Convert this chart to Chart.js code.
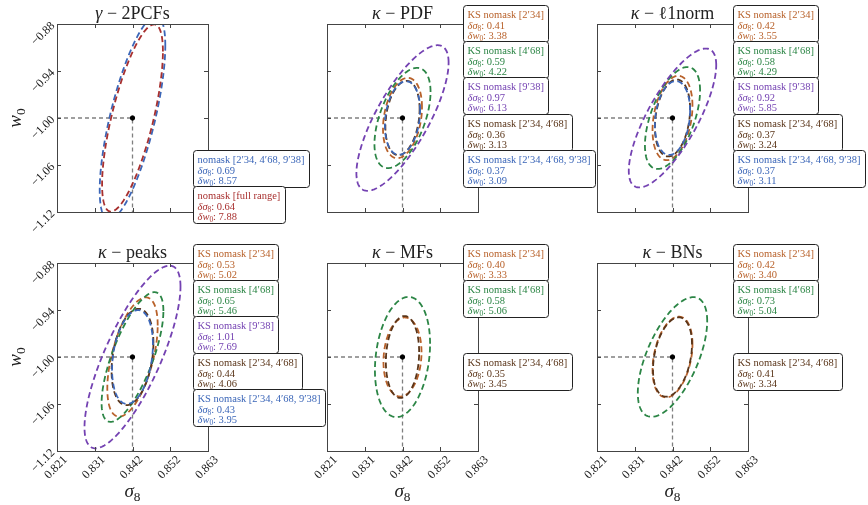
<!DOCTYPE html>
<html lang="en">
<head>
    <meta charset="UTF-8">
    <title>Fisher forecasts sigma8 - w0</title>
    <script src="https://cdn.jsdelivr.net/npm/chart.js"></script>
    <style>
        body { margin: 0; background: #ffffff; }
        #wrap { position: relative; width: 868px; height: 505px; }
        #wrap canvas { position: absolute; left: 0; top: 0; }
    </style>
</head>
<body>
<div id="wrap">
    <canvas id="p0" width="868" height="505"></canvas>
    <canvas id="p1" width="868" height="505"></canvas>
    <canvas id="p2" width="868" height="505"></canvas>
    <canvas id="p3" width="868" height="505"></canvas>
    <canvas id="p4" width="868" height="505"></canvas>
    <canvas id="p5" width="868" height="505"></canvas>
</div>
<script>
    // axes
    const xTickValues = [0.821, 0.8315, 0.842, 0.8525, 0.863];
    const xTickLabels = ['0.821', '0.831', '0.842', '0.852', '0.863'];
    const yTickValues = [-1.12, -1.06, -1.00, -0.94, -0.88];
    const yTickLabels = ['\u22121.12', '\u22121.06', '\u22121.00', '\u22120.94', '\u22120.88'];
    const fiducial = [0.842, -1.00];

    const panelTitles = ['\u03b3 \u2212 2PCFs', '\u03ba \u2212 PDF', '\u03ba \u2212 \u21131norm', '\u03ba \u2212 peaks', '\u03ba \u2212 MFs', '\u03ba \u2212 BNs'];

    // gamma 2PCFs
    const pcfLabels = ['nomask [2\u203234, 4\u203268, 9\u203238]', 'nomask [full range]'];
    const pcfColors = ['#3b66b8', '#a8302f'];
    const pcfSigma8 = [0.69, 0.64];
    const pcfW0 = [8.57, 7.88];
    const pcfRho = [0.71, 0.71];

    // KS mass maps
    const ksLabels = ['KS nomask [2\u203234]', 'KS nomask [4\u203268]', 'KS nomask [9\u203238]',
                      'KS nomask [2\u203234, 4\u203268]', 'KS nomask [2\u203234, 4\u203268, 9\u203238]'];
    const ksColors = ['#b8612a', '#2b8545', '#7442b2', '#5a3519', '#3b66b8'];

    const pdfSigma8 = [0.41, 0.59, 0.97, 0.36, 0.37];
    const pdfW0 = [3.38, 4.22, 6.13, 3.13, 3.09];
    const pdfRho = [0.27, 0.52, 0.76, 0.24, 0.21];

    const l1Sigma8 = [0.42, 0.58, 0.92, 0.37, 0.37];
    const l1W0 = [3.55, 4.29, 5.85, 3.24, 3.11];
    const l1Rho = [0.29, 0.54, 0.76, 0.24, 0.19];

    const peaksSigma8 = [0.53, 0.65, 1.01, 0.44, 0.43];
    const peaksW0 = [5.02, 5.46, 7.69, 4.06, 3.95];
    const peaksRho = [0.53, 0.71, 0.77, 0.29, 0.27];

    const mfsSigma8 = [0.40, 0.58, null, 0.35, null];
    const mfsW0 = [3.33, 5.06, null, 3.45, null];
    const mfsRho = [0.12, 0.22, null, 0.12, null];

    const bnsSigma8 = [0.42, 0.73, null, 0.41, null];
    const bnsW0 = [3.40, 5.04, null, 3.34, null];
    const bnsRho = [0.32, 0.60, null, 0.32, null];

    const FONT = '"Liberation Serif", "Times New Roman", serif';
    const colLeft = [57, 327, 597];
    const rowTop = [24, 263];
    const plotW = 151, plotH = 188;
    const K_X = 1.57, K_Y = 1.516;   // 68% 2D contour scaling

    const panels = [
        { col: 0, row: 0, labels: pcfLabels, colors: pcfColors, s8: pcfSigma8, w0: pcfW0, rho: pcfRho, slot0: 4 },
        { col: 1, row: 0, labels: ksLabels, colors: ksColors, s8: pdfSigma8, w0: pdfW0, rho: pdfRho, slot0: 0 },
        { col: 2, row: 0, labels: ksLabels, colors: ksColors, s8: l1Sigma8, w0: l1W0, rho: l1Rho, slot0: 0 },
        { col: 0, row: 1, labels: ksLabels, colors: ksColors, s8: peaksSigma8, w0: peaksW0, rho: peaksRho, slot0: 0 },
        { col: 1, row: 1, labels: ksLabels, colors: ksColors, s8: mfsSigma8, w0: mfsW0, rho: mfsRho, slot0: 0 },
        { col: 2, row: 1, labels: ksLabels, colors: ksColors, s8: bnsSigma8, w0: bnsW0, rho: bnsRho, slot0: 0 }
    ];

    function ellipse(ds8, dw0, rho) {
        const sx = ds8 / 100 * fiducial[0] * K_X;
        const sy = dw0 / 100 * Math.abs(fiducial[1]) * K_Y;
        const c = Math.sqrt(1 - rho * rho);
        const pts = [];
        for (let i = 0; i <= 200; i++) {
            const t = 2 * Math.PI * i / 200;
            pts.push({ x: fiducial[0] + sx * Math.cos(t), y: fiducial[1] + sy * (rho * Math.cos(t) + c * Math.sin(t)) });
        }
        return pts;
    }

    function fontFor(style, size) {
        if (style === 'i') return 'italic ' + size + 'px ' + FONT;
        if (style === 's') return (size * 0.7).toFixed(1) + 'px ' + FONT;
        return size + 'px ' + FONT;
    }
    function runsWidth(ctx, runs, size) {
        let w = 0;
        runs.forEach(r => { ctx.font = fontFor(r[1], size); w += ctx.measureText(r[0]).width; });
        return w;
    }
    function drawRuns(ctx, runs, x, y, size, align) {
        const w = runsWidth(ctx, runs, size);
        let cx = align === 'center' ? x - w / 2 : x;
        ctx.textAlign = 'left';
        ctx.textBaseline = 'alphabetic';
        runs.forEach(r => {
            ctx.font = fontFor(r[1], size);
            ctx.fillText(r[0], cx, r[1] === 's' ? y + size * 0.22 : y);
            cx += ctx.measureText(r[0]).width;
        });
    }

    function decorPlugin(p, title) {
        return {
            id: 'decor',
            afterDraw(chart) {
                const ctx = chart.ctx;
                const a = chart.chartArea;
                const xs = chart.scales.x, ys = chart.scales.y;
                ctx.save();
                // frame + inward ticks
                ctx.strokeStyle = '#444';
                ctx.lineWidth = 1;
                ctx.strokeRect(Math.round(a.left) + 0.5, Math.round(a.top) + 0.5, Math.round(a.right - a.left), Math.round(a.bottom - a.top));
                ctx.beginPath();
                xTickValues.forEach(v => {
                    const px = Math.round(xs.getPixelForValue(v)) + 0.5;
                    ctx.moveTo(px, a.bottom); ctx.lineTo(px, a.bottom - 4);
                    ctx.moveTo(px, a.top); ctx.lineTo(px, a.top + 4);
                });
                yTickValues.forEach(v => {
                    const py = Math.round(ys.getPixelForValue(v)) + 0.5;
                    ctx.moveTo(a.left, py); ctx.lineTo(a.left + 4, py);
                    ctx.moveTo(a.right, py); ctx.lineTo(a.right - 4, py);
                });
                ctx.stroke();

                ctx.fillStyle = '#222';
                // y tick labels (first column only)
                if (p.col === 0) {
                    ctx.font = '12px ' + FONT;
                    yTickValues.forEach((v, i) => {
                        ctx.save();
                        ctx.translate(a.left - 4, ys.getPixelForValue(v));
                        ctx.rotate(-Math.PI / 4);
                        ctx.textAlign = 'right';
                        ctx.textBaseline = 'middle';
                        ctx.fillText(yTickLabels[i], 0, 0);
                        ctx.restore();
                    });
                    drawRotatedLabel(ctx, [['w', 'i'], ['0', 's']], 15, (a.top + a.bottom) / 2);
                }
                // x tick labels (bottom row only)
                if (p.row === 1) {
                    ctx.font = '12px ' + FONT;
                    xTickValues.forEach((v, i) => {
                        const w = ctx.measureText(xTickLabels[i]).width;
                        const half = 0.7071 * (w + 8.5) / 2;
                        ctx.save();
                        ctx.translate(xs.getPixelForValue(v) - 1, a.bottom + 4 + half);
                        ctx.rotate(-Math.PI / 4);
                        ctx.textAlign = 'center';
                        ctx.textBaseline = 'middle';
                        ctx.fillText(xTickLabels[i], 0, 0);
                        ctx.restore();
                    });
                    drawRuns(ctx, [['\u03c3', 'i'], ['8', 's']], (a.left + a.right) / 2, 497, 19, 'center');
                }
                // title
                drawRuns(ctx, [[title[0], 'i'], [title.slice(1), 'r']], (a.left + a.right) / 2, a.top - 5, 18, 'center');

                // legend boxes
                p.labels.forEach((lab, i) => {
                    if (p.s8[i] === null) return;
                    const size = 10.5;
                    const lines = [
                        [[lab, 'r']],
                        [['\u03b4\u03c3', 'i'], ['8', 's'], [': ' + p.s8[i].toFixed(2), 'r']],
                        [['\u03b4w', 'i'], ['0', 's'], [': ' + p.w0[i].toFixed(2), 'r']]
                    ];
                    const bw = Math.max(...lines.map(l => runsWidth(ctx, l, size))) + 9;
                    const bx = Math.round(a.right - 15) + 0.5;
                    const by = Math.round(a.top - 19 + (p.slot0 + i) * 36.2) + 0.5;
                    ctx.beginPath();
                    ctx.roundRect(bx, by, Math.round(bw), 37, 3);
                    ctx.fillStyle = '#ffffff';
                    ctx.fill();
                    ctx.strokeStyle = '#222';
                    ctx.lineWidth = 1;
                    ctx.stroke();
                    ctx.fillStyle = p.colors[i];
                    drawRuns(ctx, lines[0], bx + 4, by + 12.5, size, 'left');
                    drawRuns(ctx, lines[1], bx + 4, by + 23.5, size, 'left');
                    drawRuns(ctx, lines[2], bx + 4, by + 33.5, size, 'left');
                });
                ctx.restore();
            }
        };
    }

    function drawRotatedLabel(ctx, runs, x, y) {
        ctx.save();
        ctx.translate(x, y);
        ctx.rotate(-Math.PI / 2);
        drawRuns(ctx, runs, 0, 6, 19, 'center');
        ctx.restore();
    }

    panels.forEach((p, k) => {
        const left = colLeft[p.col], top = rowTop[p.row];
        const datasets = [];
        // fiducial point on top
        datasets.push({ data: [{ x: fiducial[0], y: fiducial[1] }], pointRadius: 2.2, pointBackgroundColor: '#000', pointBorderColor: '#000', showLine: false });
        // contours, last label drawn on top
        for (let i = p.labels.length - 1; i >= 0; i--) {
            if (p.s8[i] === null) continue;
            datasets.push({
                data: ellipse(p.s8[i], p.w0[i], p.rho[i]),
                showLine: true, pointRadius: 0, borderColor: p.colors[i],
                borderWidth: 1.8, borderDash: [6, 3.5], fill: false
            });
        }
        // crosshair
        datasets.push({ data: [{ x: xTickValues[0], y: fiducial[1] }, { x: fiducial[0], y: fiducial[1] }, { x: fiducial[0], y: yTickValues[0] }],
            showLine: true, pointRadius: 0, borderColor: '#808080', borderWidth: 1.3, borderDash: [4, 3] });

        new Chart(document.getElementById('p' + k), {
            type: 'scatter',
            data: { datasets: datasets },
            options: {
                responsive: false,
                animation: false,
                events: [],
                layout: { padding: { left: left, top: top, right: 868 - left - plotW, bottom: 505 - top - plotH } },
                plugins: { legend: { display: false }, tooltip: { enabled: false } },
                scales: {
                    x: {
                        type: 'linear', min: xTickValues[0], max: xTickValues[4],
                        afterBuildTicks: s => { s.ticks = xTickValues.map(v => ({ value: v })); },
                        afterFit: s => { s.height = 0; },
                        ticks: { display: false }, grid: { display: false }, border: { display: false }
                    },
                    y: {
                        type: 'linear', min: yTickValues[0], max: yTickValues[4],
                        afterBuildTicks: s => { s.ticks = yTickValues.map(v => ({ value: v })); },
                        afterFit: s => { s.width = 0; },
                        ticks: { display: false }, grid: { display: false }, border: { display: false }
                    }
                }
            },
            plugins: [decorPlugin(p, panelTitles[k])]
        });
    });
</script>
</body>
</html>
